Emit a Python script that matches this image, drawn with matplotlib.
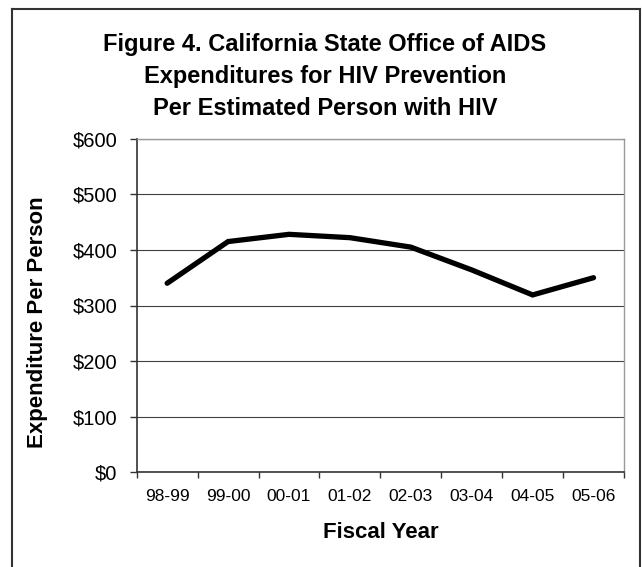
import numpy as np
import matplotlib.pyplot as plt
from matplotlib.lines import Line2D

plt.rcParams["font.family"] = ["Liberation Sans", "DejaVu Sans"]

# values
years = ["98-99", "99-00", "00-01", "01-02", "02-03", "03-04", "04-05", "05-06"]
spend = [340, 415, 428, 422, 405, 364, 319, 350]
yticks = [0, 100, 200, 300, 400, 500, 600]

W, H = 642, 567
fig = plt.figure(figsize=(W / 100, H / 100), dpi=100)
ax = fig.add_axes([136.7 / W, 1 - 472.3 / H, (624 - 136.7) / W, (472.3 - 138.7) / H])

x = np.arange(len(years))
ax.plot(x, spend, color="black", lw=3.8, solid_capstyle="round", solid_joinstyle="miter", zorder=3)

ax.set_xlim(-0.5, len(years) - 0.5)
ax.set_ylim(0, 600)
ax.set_yticks(yticks)
ax.set_yticklabels([f"${v}" for v in yticks], fontsize=14.5)
ax.yaxis.grid(True, color="#404040", lw=0.8)
ax.set_axisbelow(True)

# excel style category axis: tick marks between categories
ax.set_xticks(x)
ax.set_xticklabels(years, fontsize=12.5)
ax.set_xticks(np.arange(-0.5, len(years)), minor=True)
ax.tick_params(axis="x", which="major", length=0, pad=12)
ax.tick_params(axis="x", which="minor", length=4, width=1, color="#333333")
ax.tick_params(axis="y", length=5, width=1, color="#333333", pad=9)

for s in ["left", "bottom"]:
    ax.spines[s].set_color("#333333")
    ax.spines[s].set_linewidth(1.2)
for s in ["top", "right"]:
    ax.spines[s].set_color("#999999")
    ax.spines[s].set_linewidth(1.0)

fig.text(381 / W, 1 - 532 / H, "Fiscal Year", ha="center", va="center", fontsize=16, fontweight="bold")
fig.text(38 / W, 1 - 322 / H, "Expenditure Per Person", ha="center", va="center",
         rotation=90, fontsize=16, fontweight="bold")

title_lines = ["Figure 4. California State Office of AIDS",
               "Expenditures for HIV Prevention",
               "Per Estimated Person with HIV"]
for i, (line, yc) in enumerate(zip(title_lines, [45, 77, 108.5])):
    fig.text(325 / W, 1 - yc / H, line, ha="center", va="center", fontsize=17, fontweight="bold")

# outer frame
fx0, fx1, fy1 = 12 / W, 640 / W, 1 - 9 / H
for xs, ys in [([fx0, fx0], [0, fy1]), ([fx0, fx1], [fy1, fy1]), ([fx1, fx1], [fy1, 0])]:
    fig.add_artist(Line2D(xs, ys, color="#333333", lw=1.5, transform=fig.transFigure))

fig.savefig("out.png", dpi=100)
